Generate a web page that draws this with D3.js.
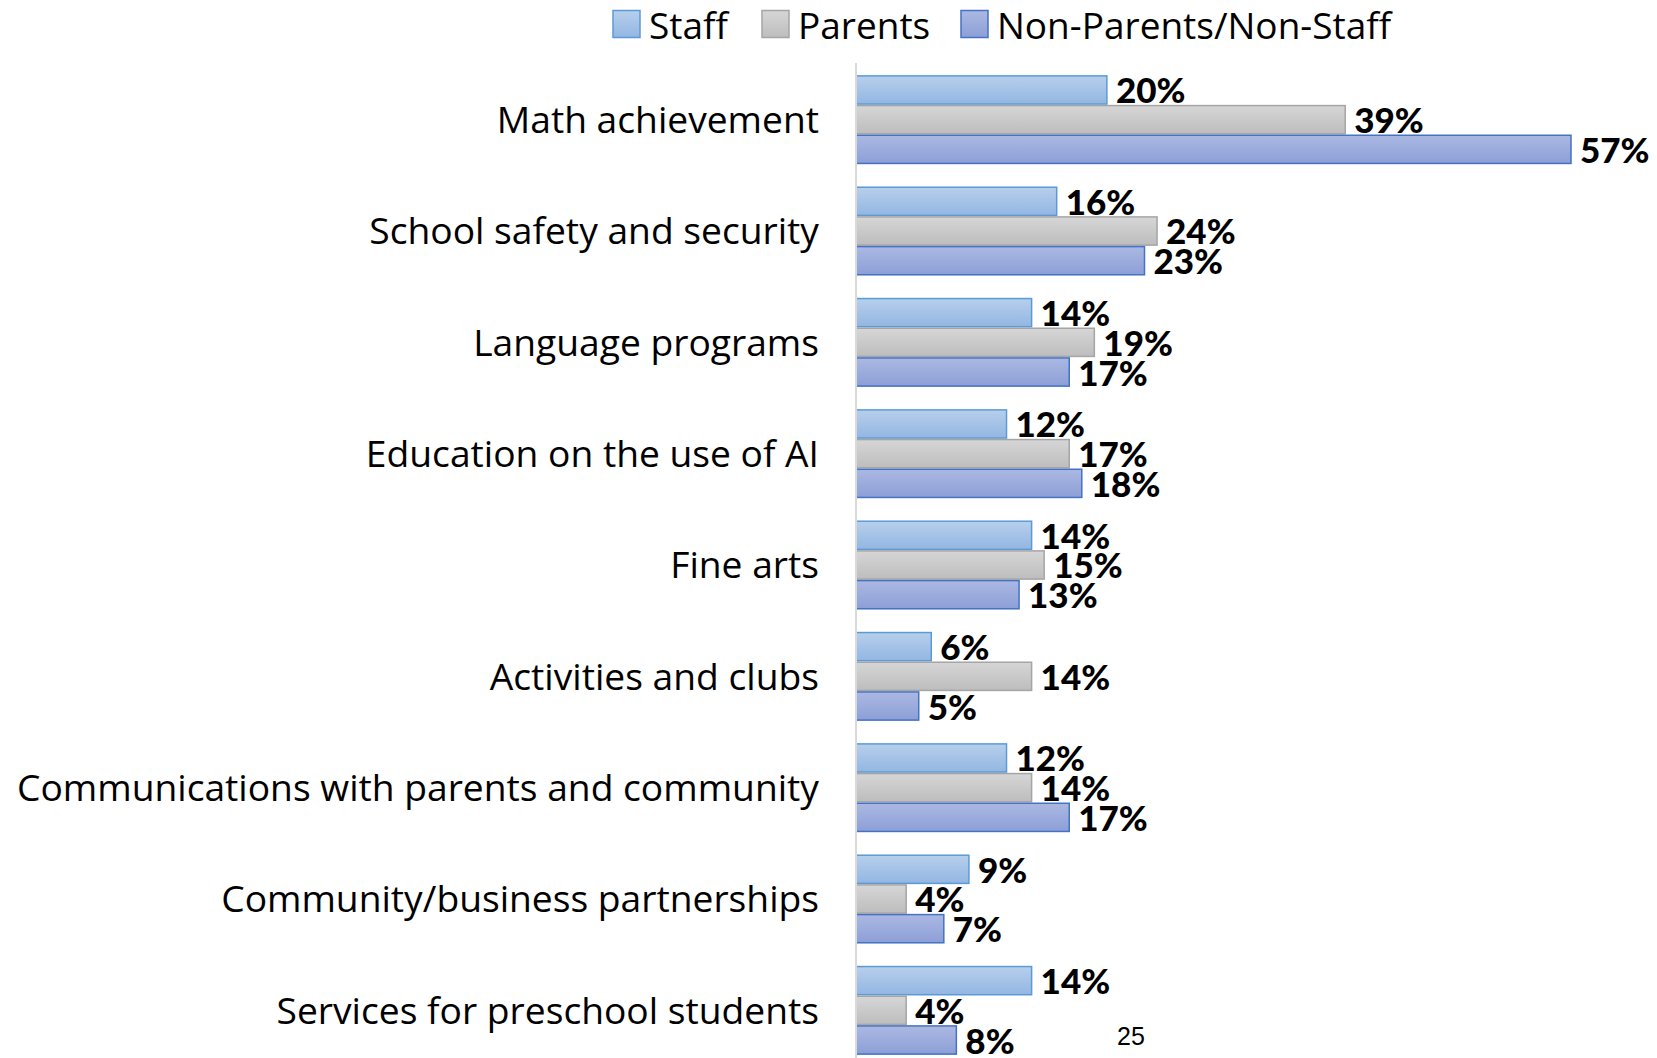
<!DOCTYPE html>
<html>
<head>
<meta charset="utf-8">
<script src="https://cdn.jsdelivr.net/npm/d3@7"></script>
<style>
  html, body { margin: 0; padding: 0; background: #ffffff; }
  svg { display: block; }
</style>
</head>
<body>
<svg id="chart" width="1657" height="1058"></svg>
<script>
// Survey priorities by respondent group (percent)
const categories = [
  "Math achievement",
  "School safety and security",
  "Language programs",
  "Education on the use of AI",
  "Fine arts",
  "Activities and clubs",
  "Communications with parents and community",
  "Community/business partnerships",
  "Services for preschool students"
];
const seriesNames = ["Staff", "Parents", "Non-Parents/Non-Staff"];
const staff      = [20, 16, 14, 12, 14, 6, 12, 9, 14];
const parents    = [39, 24, 19, 17, 15, 14, 14, 4, 4];
const nonParents = [57, 23, 17, 18, 13, 5, 17, 7, 8];
const pageNumber = "25";

const seriesValues = [staff, parents, nonParents];
const seriesStyle = [
  { top: "#b7cfec", bottom: "#93b6e2", stroke: "#5b9bd5" },
  { top: "#d6d6d6", bottom: "#bdbdbd", stroke: "#a5a5a5" },
  { top: "#abb8e2", bottom: "#8c9fd7", stroke: "#4472c4" }
];

const svg = d3.select("#chart");
const W = 1657, H = 1058;
const x0 = 856;
const textFont = "'Open Sans', Lato, sans-serif";
const valueFont = "Lato, 'Open Sans', sans-serif";

const x = d3.scaleLinear().domain([0, 57]).range([x0, 1571]);
const y = d3.scaleBand().domain(categories).range([64, 1066]).paddingInner(0.2).paddingOuter(0.1);
const ySub = d3.scaleBand().domain(seriesNames).range([0, y.bandwidth()]);

// vertical gradients for bar fills
const defs = svg.append("defs");
seriesStyle.forEach((s, i) => {
  const g = defs.append("linearGradient").attr("id", "grad" + i)
    .attr("x1", 0).attr("y1", 0).attr("x2", 0).attr("y2", 1);
  g.append("stop").attr("offset", "0%").attr("stop-color", s.top);
  g.append("stop").attr("offset", "100%").attr("stop-color", s.bottom);
});

// bars + value labels
const groups = svg.append("g").selectAll("g.cat")
  .data(categories).join("g")
  .attr("class", "cat")
  .attr("transform", d => `translate(0,${y(d)})`);

seriesNames.forEach((name, si) => {
  groups.append("rect")
    .attr("x", x(0))
    .attr("y", ySub(name) + 0.75)
    .attr("width", (d, ci) => x(seriesValues[si][ci]) - x(0))
    .attr("height", ySub.bandwidth() - 1.5)
    .attr("fill", `url(#grad${si})`)
    .attr("stroke", seriesStyle[si].stroke)
    .attr("stroke-width", 1.5);
});

seriesNames.forEach((name, si) => {
  groups.append("text")
    .attr("x", (d, ci) => x(seriesValues[si][ci]) + 9)
    .attr("y", ySub(name) + ySub.bandwidth() / 2 + 13.5)
    .attr("font-family", valueFont)
    .attr("font-weight", 900)
    .attr("font-size", 35)
    .attr("fill", "#000")
    .text((d, ci) => seriesValues[si][ci] + "%");
});

// vertical category axis
const axis = d3.axisLeft(y).tickSize(0).tickPadding(37);
const ax = svg.append("g").attr("transform", `translate(${x0},0)`).call(axis);
ax.select(".domain").remove();
ax.selectAll("text")
  .attr("font-family", textFont)
  .attr("font-size", 37.2)
  .attr("fill", "#000")
  .attr("dy", "0.36em");
svg.append("line")
  .attr("x1", x0).attr("x2", x0).attr("y1", 63).attr("y2", H)
  .attr("stroke", "#d9d9d9").attr("stroke-width", 2);

// legend
const legendPos = [613, 762, 961];
const legend = svg.append("g").selectAll("g").data(seriesNames).join("g")
  .attr("transform", (d, i) => `translate(${legendPos[i]},10.5)`);
legend.append("rect")
  .attr("width", 27).attr("height", 27)
  .attr("fill", (d, i) => `url(#grad${i})`)
  .attr("stroke", (d, i) => seriesStyle[i].stroke)
  .attr("stroke-width", 1.5);
legend.append("text")
  .attr("x", 36).attr("y", 28.5)
  .attr("font-family", textFont)
  .attr("font-size", 37)
  .attr("fill", "#000")
  .text(d => d);

// page number
svg.append("text")
  .attr("x", 1117).attr("y", 1045)
  .attr("font-family", "'Liberation Sans', Arial, sans-serif")
  .attr("font-size", 25)
  .attr("fill", "#000")
  .text(pageNumber);
</script>
</body>
</html>
